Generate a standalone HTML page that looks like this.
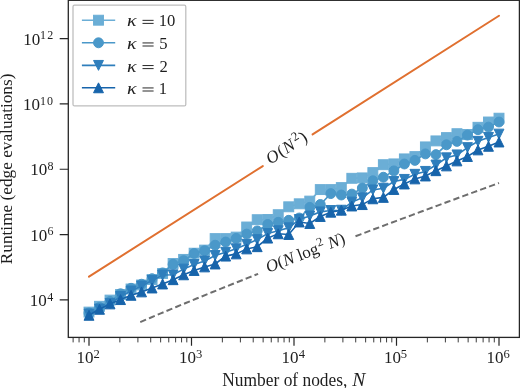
<!DOCTYPE html>
<html><head><meta charset="utf-8"><style>
html,body{margin:0;padding:0;background:#fff;width:520px;height:388px;overflow:hidden}
svg{display:block;will-change:transform}
</style></head><body>
<svg width="520" height="388" viewBox="0 0 520 388" font-family="Liberation Serif" fill="#1e1e1e">
<rect x="0" y="0" width="520" height="388" fill="#fff"/>
<defs><clipPath id="axclip"><rect x="68.3" y="0.3" width="451.09999999999997" height="337.09999999999997"/></clipPath></defs>
<g clip-path="url(#axclip)">
<path d="M89.00,276.62L262.80,166.04 M312.60,134.35L499.00,15.75" stroke="#e07030" stroke-width="2.0" stroke-linecap="round" fill="none"/>
<path d="M140.25,322.15 L145.37,319.95 L150.50,317.77 L155.62,315.59 L160.75,313.43 L165.88,311.28 L171.00,309.13 L176.12,307.00 L181.25,304.87 L186.38,302.75 L191.50,300.64 L196.62,298.54 L201.75,296.45 L206.88,294.36 L212.00,292.28 L217.12,290.21 L222.25,288.14 L227.38,286.08 L232.50,284.03 L237.63,281.98 L242.75,279.94 L247.87,277.90 L253.00,275.88 L258.12,273.85" stroke="#6e6e6e" stroke-width="2.0" stroke-dasharray="6.3,3.2" fill="none"/>
<path d="M355.50,236.26 L360.63,234.32 L365.75,232.39 L370.88,230.45 L376.00,228.52 L381.12,226.60 L386.25,224.67 L391.38,222.75 L396.50,220.83 L401.62,218.92 L406.75,217.00 L411.88,215.09 L417.00,213.19 L422.12,211.28 L427.25,209.38 L432.37,207.48 L437.50,205.58 L442.62,203.69 L447.75,201.80 L452.88,199.91 L458.00,198.02 L463.13,196.14 L468.25,194.25 L473.38,192.37 L478.50,190.49 L483.62,188.62 L488.75,186.74 L493.88,184.87 L499.00,183.00" stroke="#6e6e6e" stroke-width="2.0" stroke-dasharray="6.3,3.2" fill="none"/>
<path d="M89.00,312.10 L99.51,306.30 L110.03,300.10 L120.54,294.50 L131.05,289.00 L141.56,285.00 L152.08,279.50 L162.59,273.50 L173.10,263.50 L183.62,259.40 L194.13,253.20 L204.64,250.10 L215.15,238.60 L225.67,238.60 L236.18,237.10 L246.69,227.00 L257.21,219.70 L267.72,219.50 L278.23,214.70 L288.74,206.80 L299.26,203.80 L309.77,201.10 L320.28,189.60 L330.79,189.60 L341.31,187.60 L351.82,178.30 L362.33,177.90 L372.85,172.60 L383.36,164.70 L393.87,163.90 L404.38,158.90 L414.90,156.60 L425.41,146.90 L435.92,140.90 L446.44,137.60 L456.95,133.70 L467.46,134.50 L477.97,127.30 L488.49,122.00 L499.00,118.20" stroke="#6baed6" stroke-width="1.6" fill="none"/>
<rect x="84.05" y="307.15" width="9.9" height="9.9" fill="#6baed6" stroke="#6baed6" stroke-width="1.0"/><rect x="94.56" y="301.35" width="9.9" height="9.9" fill="#6baed6" stroke="#6baed6" stroke-width="1.0"/><rect x="105.08" y="295.15" width="9.9" height="9.9" fill="#6baed6" stroke="#6baed6" stroke-width="1.0"/><rect x="115.59" y="289.55" width="9.9" height="9.9" fill="#6baed6" stroke="#6baed6" stroke-width="1.0"/><rect x="126.10" y="284.05" width="9.9" height="9.9" fill="#6baed6" stroke="#6baed6" stroke-width="1.0"/><rect x="136.61" y="280.05" width="9.9" height="9.9" fill="#6baed6" stroke="#6baed6" stroke-width="1.0"/><rect x="147.13" y="274.55" width="9.9" height="9.9" fill="#6baed6" stroke="#6baed6" stroke-width="1.0"/><rect x="157.64" y="268.55" width="9.9" height="9.9" fill="#6baed6" stroke="#6baed6" stroke-width="1.0"/><rect x="168.15" y="258.55" width="9.9" height="9.9" fill="#6baed6" stroke="#6baed6" stroke-width="1.0"/><rect x="178.67" y="254.45" width="9.9" height="9.9" fill="#6baed6" stroke="#6baed6" stroke-width="1.0"/><rect x="189.18" y="248.25" width="9.9" height="9.9" fill="#6baed6" stroke="#6baed6" stroke-width="1.0"/><rect x="199.69" y="245.15" width="9.9" height="9.9" fill="#6baed6" stroke="#6baed6" stroke-width="1.0"/><rect x="210.20" y="233.65" width="9.9" height="9.9" fill="#6baed6" stroke="#6baed6" stroke-width="1.0"/><rect x="220.72" y="233.65" width="9.9" height="9.9" fill="#6baed6" stroke="#6baed6" stroke-width="1.0"/><rect x="231.23" y="232.15" width="9.9" height="9.9" fill="#6baed6" stroke="#6baed6" stroke-width="1.0"/><rect x="241.74" y="222.05" width="9.9" height="9.9" fill="#6baed6" stroke="#6baed6" stroke-width="1.0"/><rect x="252.26" y="214.75" width="9.9" height="9.9" fill="#6baed6" stroke="#6baed6" stroke-width="1.0"/><rect x="262.77" y="214.55" width="9.9" height="9.9" fill="#6baed6" stroke="#6baed6" stroke-width="1.0"/><rect x="273.28" y="209.75" width="9.9" height="9.9" fill="#6baed6" stroke="#6baed6" stroke-width="1.0"/><rect x="283.79" y="201.85" width="9.9" height="9.9" fill="#6baed6" stroke="#6baed6" stroke-width="1.0"/><rect x="294.31" y="198.85" width="9.9" height="9.9" fill="#6baed6" stroke="#6baed6" stroke-width="1.0"/><rect x="304.82" y="196.15" width="9.9" height="9.9" fill="#6baed6" stroke="#6baed6" stroke-width="1.0"/><rect x="315.33" y="184.65" width="9.9" height="9.9" fill="#6baed6" stroke="#6baed6" stroke-width="1.0"/><rect x="325.84" y="184.65" width="9.9" height="9.9" fill="#6baed6" stroke="#6baed6" stroke-width="1.0"/><rect x="336.36" y="182.65" width="9.9" height="9.9" fill="#6baed6" stroke="#6baed6" stroke-width="1.0"/><rect x="346.87" y="173.35" width="9.9" height="9.9" fill="#6baed6" stroke="#6baed6" stroke-width="1.0"/><rect x="357.38" y="172.95" width="9.9" height="9.9" fill="#6baed6" stroke="#6baed6" stroke-width="1.0"/><rect x="367.90" y="167.65" width="9.9" height="9.9" fill="#6baed6" stroke="#6baed6" stroke-width="1.0"/><rect x="378.41" y="159.75" width="9.9" height="9.9" fill="#6baed6" stroke="#6baed6" stroke-width="1.0"/><rect x="388.92" y="158.95" width="9.9" height="9.9" fill="#6baed6" stroke="#6baed6" stroke-width="1.0"/><rect x="399.43" y="153.95" width="9.9" height="9.9" fill="#6baed6" stroke="#6baed6" stroke-width="1.0"/><rect x="409.95" y="151.65" width="9.9" height="9.9" fill="#6baed6" stroke="#6baed6" stroke-width="1.0"/><rect x="420.46" y="141.95" width="9.9" height="9.9" fill="#6baed6" stroke="#6baed6" stroke-width="1.0"/><rect x="430.97" y="135.95" width="9.9" height="9.9" fill="#6baed6" stroke="#6baed6" stroke-width="1.0"/><rect x="441.49" y="132.65" width="9.9" height="9.9" fill="#6baed6" stroke="#6baed6" stroke-width="1.0"/><rect x="452.00" y="128.75" width="9.9" height="9.9" fill="#6baed6" stroke="#6baed6" stroke-width="1.0"/><rect x="462.51" y="129.55" width="9.9" height="9.9" fill="#6baed6" stroke="#6baed6" stroke-width="1.0"/><rect x="473.02" y="122.35" width="9.9" height="9.9" fill="#6baed6" stroke="#6baed6" stroke-width="1.0"/><rect x="483.54" y="117.05" width="9.9" height="9.9" fill="#6baed6" stroke="#6baed6" stroke-width="1.0"/><rect x="494.05" y="113.25" width="9.9" height="9.9" fill="#6baed6" stroke="#6baed6" stroke-width="1.0"/>
<path d="M89.00,313.00 L99.51,307.50 L110.03,301.50 L120.54,293.80 L131.05,288.30 L141.56,284.20 L152.08,278.70 L162.59,272.90 L173.10,264.30 L183.62,260.70 L194.13,253.50 L204.64,250.70 L215.15,245.20 L225.67,242.00 L236.18,238.40 L246.69,234.10 L257.21,230.90 L267.72,224.50 L278.23,222.30 L288.74,220.30 L299.26,218.00 L309.77,207.40 L320.28,204.50 L330.79,193.60 L341.31,195.00 L351.82,194.10 L362.33,188.00 L372.85,180.80 L383.36,177.20 L393.87,170.90 L404.38,164.00 L414.90,160.40 L425.41,153.90 L435.92,154.60 L446.44,144.80 L456.95,141.40 L467.46,135.10 L477.97,129.70 L488.49,127.10 L499.00,122.00" stroke="#4a98c9" stroke-width="1.6" fill="none"/>
<circle cx="89.00" cy="313.00" r="4.95" fill="#4a98c9" stroke="#4a98c9" stroke-width="1.0"/><circle cx="99.51" cy="307.50" r="4.95" fill="#4a98c9" stroke="#4a98c9" stroke-width="1.0"/><circle cx="110.03" cy="301.50" r="4.95" fill="#4a98c9" stroke="#4a98c9" stroke-width="1.0"/><circle cx="120.54" cy="293.80" r="4.95" fill="#4a98c9" stroke="#4a98c9" stroke-width="1.0"/><circle cx="131.05" cy="288.30" r="4.95" fill="#4a98c9" stroke="#4a98c9" stroke-width="1.0"/><circle cx="141.56" cy="284.20" r="4.95" fill="#4a98c9" stroke="#4a98c9" stroke-width="1.0"/><circle cx="152.08" cy="278.70" r="4.95" fill="#4a98c9" stroke="#4a98c9" stroke-width="1.0"/><circle cx="162.59" cy="272.90" r="4.95" fill="#4a98c9" stroke="#4a98c9" stroke-width="1.0"/><circle cx="173.10" cy="264.30" r="4.95" fill="#4a98c9" stroke="#4a98c9" stroke-width="1.0"/><circle cx="183.62" cy="260.70" r="4.95" fill="#4a98c9" stroke="#4a98c9" stroke-width="1.0"/><circle cx="194.13" cy="253.50" r="4.95" fill="#4a98c9" stroke="#4a98c9" stroke-width="1.0"/><circle cx="204.64" cy="250.70" r="4.95" fill="#4a98c9" stroke="#4a98c9" stroke-width="1.0"/><circle cx="215.15" cy="245.20" r="4.95" fill="#4a98c9" stroke="#4a98c9" stroke-width="1.0"/><circle cx="225.67" cy="242.00" r="4.95" fill="#4a98c9" stroke="#4a98c9" stroke-width="1.0"/><circle cx="236.18" cy="238.40" r="4.95" fill="#4a98c9" stroke="#4a98c9" stroke-width="1.0"/><circle cx="246.69" cy="234.10" r="4.95" fill="#4a98c9" stroke="#4a98c9" stroke-width="1.0"/><circle cx="257.21" cy="230.90" r="4.95" fill="#4a98c9" stroke="#4a98c9" stroke-width="1.0"/><circle cx="267.72" cy="224.50" r="4.95" fill="#4a98c9" stroke="#4a98c9" stroke-width="1.0"/><circle cx="278.23" cy="222.30" r="4.95" fill="#4a98c9" stroke="#4a98c9" stroke-width="1.0"/><circle cx="288.74" cy="220.30" r="4.95" fill="#4a98c9" stroke="#4a98c9" stroke-width="1.0"/><circle cx="299.26" cy="218.00" r="4.95" fill="#4a98c9" stroke="#4a98c9" stroke-width="1.0"/><circle cx="309.77" cy="207.40" r="4.95" fill="#4a98c9" stroke="#4a98c9" stroke-width="1.0"/><circle cx="320.28" cy="204.50" r="4.95" fill="#4a98c9" stroke="#4a98c9" stroke-width="1.0"/><circle cx="330.79" cy="193.60" r="4.95" fill="#4a98c9" stroke="#4a98c9" stroke-width="1.0"/><circle cx="341.31" cy="195.00" r="4.95" fill="#4a98c9" stroke="#4a98c9" stroke-width="1.0"/><circle cx="351.82" cy="194.10" r="4.95" fill="#4a98c9" stroke="#4a98c9" stroke-width="1.0"/><circle cx="362.33" cy="188.00" r="4.95" fill="#4a98c9" stroke="#4a98c9" stroke-width="1.0"/><circle cx="372.85" cy="180.80" r="4.95" fill="#4a98c9" stroke="#4a98c9" stroke-width="1.0"/><circle cx="383.36" cy="177.20" r="4.95" fill="#4a98c9" stroke="#4a98c9" stroke-width="1.0"/><circle cx="393.87" cy="170.90" r="4.95" fill="#4a98c9" stroke="#4a98c9" stroke-width="1.0"/><circle cx="404.38" cy="164.00" r="4.95" fill="#4a98c9" stroke="#4a98c9" stroke-width="1.0"/><circle cx="414.90" cy="160.40" r="4.95" fill="#4a98c9" stroke="#4a98c9" stroke-width="1.0"/><circle cx="425.41" cy="153.90" r="4.95" fill="#4a98c9" stroke="#4a98c9" stroke-width="1.0"/><circle cx="435.92" cy="154.60" r="4.95" fill="#4a98c9" stroke="#4a98c9" stroke-width="1.0"/><circle cx="446.44" cy="144.80" r="4.95" fill="#4a98c9" stroke="#4a98c9" stroke-width="1.0"/><circle cx="456.95" cy="141.40" r="4.95" fill="#4a98c9" stroke="#4a98c9" stroke-width="1.0"/><circle cx="467.46" cy="135.10" r="4.95" fill="#4a98c9" stroke="#4a98c9" stroke-width="1.0"/><circle cx="477.97" cy="129.70" r="4.95" fill="#4a98c9" stroke="#4a98c9" stroke-width="1.0"/><circle cx="488.49" cy="127.10" r="4.95" fill="#4a98c9" stroke="#4a98c9" stroke-width="1.0"/><circle cx="499.00" cy="122.00" r="4.95" fill="#4a98c9" stroke="#4a98c9" stroke-width="1.0"/>
<path d="M89.00,314.00 L99.51,309.00 L110.03,303.50 L120.54,296.50 L131.05,291.00 L141.56,286.00 L152.08,280.50 L162.59,275.00 L173.10,274.80 L183.62,269.10 L194.13,264.50 L204.64,260.90 L215.15,255.50 L225.67,252.30 L236.18,248.70 L246.69,244.30 L257.21,239.60 L267.72,233.50 L278.23,230.70 L288.74,227.80 L299.26,219.50 L309.77,216.00 L320.28,211.90 L330.79,210.50 L341.31,210.20 L351.82,202.10 L362.33,197.80 L372.85,189.90 L383.36,188.20 L393.87,181.50 L404.38,179.40 L414.90,174.30 L425.41,171.40 L435.92,165.00 L446.44,157.80 L456.95,154.90 L467.46,147.60 L477.97,141.30 L488.49,137.40 L499.00,134.10" stroke="#2e7ebc" stroke-width="1.6" fill="none"/>
<path d="M84.05,309.05L93.95,309.05L89.00,318.95Z" fill="#2e7ebc" stroke="#2e7ebc" stroke-width="1.0"/><path d="M94.56,304.05L104.46,304.05L99.51,313.95Z" fill="#2e7ebc" stroke="#2e7ebc" stroke-width="1.0"/><path d="M105.08,298.55L114.98,298.55L110.03,308.45Z" fill="#2e7ebc" stroke="#2e7ebc" stroke-width="1.0"/><path d="M115.59,291.55L125.49,291.55L120.54,301.45Z" fill="#2e7ebc" stroke="#2e7ebc" stroke-width="1.0"/><path d="M126.10,286.05L136.00,286.05L131.05,295.95Z" fill="#2e7ebc" stroke="#2e7ebc" stroke-width="1.0"/><path d="M136.61,281.05L146.51,281.05L141.56,290.95Z" fill="#2e7ebc" stroke="#2e7ebc" stroke-width="1.0"/><path d="M147.13,275.55L157.03,275.55L152.08,285.45Z" fill="#2e7ebc" stroke="#2e7ebc" stroke-width="1.0"/><path d="M157.64,270.05L167.54,270.05L162.59,279.95Z" fill="#2e7ebc" stroke="#2e7ebc" stroke-width="1.0"/><path d="M168.15,269.85L178.05,269.85L173.10,279.75Z" fill="#2e7ebc" stroke="#2e7ebc" stroke-width="1.0"/><path d="M178.67,264.15L188.57,264.15L183.62,274.05Z" fill="#2e7ebc" stroke="#2e7ebc" stroke-width="1.0"/><path d="M189.18,259.55L199.08,259.55L194.13,269.45Z" fill="#2e7ebc" stroke="#2e7ebc" stroke-width="1.0"/><path d="M199.69,255.95L209.59,255.95L204.64,265.85Z" fill="#2e7ebc" stroke="#2e7ebc" stroke-width="1.0"/><path d="M210.20,250.55L220.10,250.55L215.15,260.45Z" fill="#2e7ebc" stroke="#2e7ebc" stroke-width="1.0"/><path d="M220.72,247.35L230.62,247.35L225.67,257.25Z" fill="#2e7ebc" stroke="#2e7ebc" stroke-width="1.0"/><path d="M231.23,243.75L241.13,243.75L236.18,253.65Z" fill="#2e7ebc" stroke="#2e7ebc" stroke-width="1.0"/><path d="M241.74,239.35L251.64,239.35L246.69,249.25Z" fill="#2e7ebc" stroke="#2e7ebc" stroke-width="1.0"/><path d="M252.26,234.65L262.16,234.65L257.21,244.55Z" fill="#2e7ebc" stroke="#2e7ebc" stroke-width="1.0"/><path d="M262.77,228.55L272.67,228.55L267.72,238.45Z" fill="#2e7ebc" stroke="#2e7ebc" stroke-width="1.0"/><path d="M273.28,225.75L283.18,225.75L278.23,235.65Z" fill="#2e7ebc" stroke="#2e7ebc" stroke-width="1.0"/><path d="M283.79,222.85L293.69,222.85L288.74,232.75Z" fill="#2e7ebc" stroke="#2e7ebc" stroke-width="1.0"/><path d="M294.31,214.55L304.21,214.55L299.26,224.45Z" fill="#2e7ebc" stroke="#2e7ebc" stroke-width="1.0"/><path d="M304.82,211.05L314.72,211.05L309.77,220.95Z" fill="#2e7ebc" stroke="#2e7ebc" stroke-width="1.0"/><path d="M315.33,206.95L325.23,206.95L320.28,216.85Z" fill="#2e7ebc" stroke="#2e7ebc" stroke-width="1.0"/><path d="M325.84,205.55L335.74,205.55L330.79,215.45Z" fill="#2e7ebc" stroke="#2e7ebc" stroke-width="1.0"/><path d="M336.36,205.25L346.26,205.25L341.31,215.15Z" fill="#2e7ebc" stroke="#2e7ebc" stroke-width="1.0"/><path d="M346.87,197.15L356.77,197.15L351.82,207.05Z" fill="#2e7ebc" stroke="#2e7ebc" stroke-width="1.0"/><path d="M357.38,192.85L367.28,192.85L362.33,202.75Z" fill="#2e7ebc" stroke="#2e7ebc" stroke-width="1.0"/><path d="M367.90,184.95L377.80,184.95L372.85,194.85Z" fill="#2e7ebc" stroke="#2e7ebc" stroke-width="1.0"/><path d="M378.41,183.25L388.31,183.25L383.36,193.15Z" fill="#2e7ebc" stroke="#2e7ebc" stroke-width="1.0"/><path d="M388.92,176.55L398.82,176.55L393.87,186.45Z" fill="#2e7ebc" stroke="#2e7ebc" stroke-width="1.0"/><path d="M399.43,174.45L409.33,174.45L404.38,184.35Z" fill="#2e7ebc" stroke="#2e7ebc" stroke-width="1.0"/><path d="M409.95,169.35L419.85,169.35L414.90,179.25Z" fill="#2e7ebc" stroke="#2e7ebc" stroke-width="1.0"/><path d="M420.46,166.45L430.36,166.45L425.41,176.35Z" fill="#2e7ebc" stroke="#2e7ebc" stroke-width="1.0"/><path d="M430.97,160.05L440.87,160.05L435.92,169.95Z" fill="#2e7ebc" stroke="#2e7ebc" stroke-width="1.0"/><path d="M441.49,152.85L451.39,152.85L446.44,162.75Z" fill="#2e7ebc" stroke="#2e7ebc" stroke-width="1.0"/><path d="M452.00,149.95L461.90,149.95L456.95,159.85Z" fill="#2e7ebc" stroke="#2e7ebc" stroke-width="1.0"/><path d="M462.51,142.65L472.41,142.65L467.46,152.55Z" fill="#2e7ebc" stroke="#2e7ebc" stroke-width="1.0"/><path d="M473.02,136.35L482.92,136.35L477.97,146.25Z" fill="#2e7ebc" stroke="#2e7ebc" stroke-width="1.0"/><path d="M483.54,132.45L493.44,132.45L488.49,142.35Z" fill="#2e7ebc" stroke="#2e7ebc" stroke-width="1.0"/><path d="M494.05,129.15L503.95,129.15L499.00,139.05Z" fill="#2e7ebc" stroke="#2e7ebc" stroke-width="1.0"/>
<path d="M89.00,315.30 L99.51,309.30 L110.03,303.90 L120.54,299.60 L131.05,295.30 L141.56,291.90 L152.08,288.00 L162.59,284.00 L173.10,279.70 L183.62,274.80 L194.13,270.50 L204.64,266.90 L215.15,264.00 L225.67,256.10 L236.18,253.90 L246.69,248.90 L257.21,246.70 L267.72,238.10 L278.23,233.80 L288.74,234.50 L299.26,222.00 L309.77,223.50 L320.28,216.50 L330.79,212.20 L341.31,210.20 L351.82,206.00 L362.33,204.60 L372.85,198.80 L383.36,197.40 L393.87,189.50 L404.38,184.00 L414.90,178.90 L425.41,176.00 L435.92,170.70 L446.44,165.90 L456.95,160.90 L467.46,156.50 L477.97,149.90 L488.49,146.30 L499.00,142.00" stroke="#1764ab" stroke-width="1.6" fill="none"/>
<path d="M84.05,320.25L93.95,320.25L89.00,310.35Z" fill="#1764ab" stroke="#1764ab" stroke-width="1.0"/><path d="M94.56,314.25L104.46,314.25L99.51,304.35Z" fill="#1764ab" stroke="#1764ab" stroke-width="1.0"/><path d="M105.08,308.85L114.98,308.85L110.03,298.95Z" fill="#1764ab" stroke="#1764ab" stroke-width="1.0"/><path d="M115.59,304.55L125.49,304.55L120.54,294.65Z" fill="#1764ab" stroke="#1764ab" stroke-width="1.0"/><path d="M126.10,300.25L136.00,300.25L131.05,290.35Z" fill="#1764ab" stroke="#1764ab" stroke-width="1.0"/><path d="M136.61,296.85L146.51,296.85L141.56,286.95Z" fill="#1764ab" stroke="#1764ab" stroke-width="1.0"/><path d="M147.13,292.95L157.03,292.95L152.08,283.05Z" fill="#1764ab" stroke="#1764ab" stroke-width="1.0"/><path d="M157.64,288.95L167.54,288.95L162.59,279.05Z" fill="#1764ab" stroke="#1764ab" stroke-width="1.0"/><path d="M168.15,284.65L178.05,284.65L173.10,274.75Z" fill="#1764ab" stroke="#1764ab" stroke-width="1.0"/><path d="M178.67,279.75L188.57,279.75L183.62,269.85Z" fill="#1764ab" stroke="#1764ab" stroke-width="1.0"/><path d="M189.18,275.45L199.08,275.45L194.13,265.55Z" fill="#1764ab" stroke="#1764ab" stroke-width="1.0"/><path d="M199.69,271.85L209.59,271.85L204.64,261.95Z" fill="#1764ab" stroke="#1764ab" stroke-width="1.0"/><path d="M210.20,268.95L220.10,268.95L215.15,259.05Z" fill="#1764ab" stroke="#1764ab" stroke-width="1.0"/><path d="M220.72,261.05L230.62,261.05L225.67,251.15Z" fill="#1764ab" stroke="#1764ab" stroke-width="1.0"/><path d="M231.23,258.85L241.13,258.85L236.18,248.95Z" fill="#1764ab" stroke="#1764ab" stroke-width="1.0"/><path d="M241.74,253.85L251.64,253.85L246.69,243.95Z" fill="#1764ab" stroke="#1764ab" stroke-width="1.0"/><path d="M252.26,251.65L262.16,251.65L257.21,241.75Z" fill="#1764ab" stroke="#1764ab" stroke-width="1.0"/><path d="M262.77,243.05L272.67,243.05L267.72,233.15Z" fill="#1764ab" stroke="#1764ab" stroke-width="1.0"/><path d="M273.28,238.75L283.18,238.75L278.23,228.85Z" fill="#1764ab" stroke="#1764ab" stroke-width="1.0"/><path d="M283.79,239.45L293.69,239.45L288.74,229.55Z" fill="#1764ab" stroke="#1764ab" stroke-width="1.0"/><path d="M294.31,226.95L304.21,226.95L299.26,217.05Z" fill="#1764ab" stroke="#1764ab" stroke-width="1.0"/><path d="M304.82,228.45L314.72,228.45L309.77,218.55Z" fill="#1764ab" stroke="#1764ab" stroke-width="1.0"/><path d="M315.33,221.45L325.23,221.45L320.28,211.55Z" fill="#1764ab" stroke="#1764ab" stroke-width="1.0"/><path d="M325.84,217.15L335.74,217.15L330.79,207.25Z" fill="#1764ab" stroke="#1764ab" stroke-width="1.0"/><path d="M336.36,215.15L346.26,215.15L341.31,205.25Z" fill="#1764ab" stroke="#1764ab" stroke-width="1.0"/><path d="M346.87,210.95L356.77,210.95L351.82,201.05Z" fill="#1764ab" stroke="#1764ab" stroke-width="1.0"/><path d="M357.38,209.55L367.28,209.55L362.33,199.65Z" fill="#1764ab" stroke="#1764ab" stroke-width="1.0"/><path d="M367.90,203.75L377.80,203.75L372.85,193.85Z" fill="#1764ab" stroke="#1764ab" stroke-width="1.0"/><path d="M378.41,202.35L388.31,202.35L383.36,192.45Z" fill="#1764ab" stroke="#1764ab" stroke-width="1.0"/><path d="M388.92,194.45L398.82,194.45L393.87,184.55Z" fill="#1764ab" stroke="#1764ab" stroke-width="1.0"/><path d="M399.43,188.95L409.33,188.95L404.38,179.05Z" fill="#1764ab" stroke="#1764ab" stroke-width="1.0"/><path d="M409.95,183.85L419.85,183.85L414.90,173.95Z" fill="#1764ab" stroke="#1764ab" stroke-width="1.0"/><path d="M420.46,180.95L430.36,180.95L425.41,171.05Z" fill="#1764ab" stroke="#1764ab" stroke-width="1.0"/><path d="M430.97,175.65L440.87,175.65L435.92,165.75Z" fill="#1764ab" stroke="#1764ab" stroke-width="1.0"/><path d="M441.49,170.85L451.39,170.85L446.44,160.95Z" fill="#1764ab" stroke="#1764ab" stroke-width="1.0"/><path d="M452.00,165.85L461.90,165.85L456.95,155.95Z" fill="#1764ab" stroke="#1764ab" stroke-width="1.0"/><path d="M462.51,161.45L472.41,161.45L467.46,151.55Z" fill="#1764ab" stroke="#1764ab" stroke-width="1.0"/><path d="M473.02,154.85L482.92,154.85L477.97,144.95Z" fill="#1764ab" stroke="#1764ab" stroke-width="1.0"/><path d="M483.54,151.25L493.44,151.25L488.49,141.35Z" fill="#1764ab" stroke="#1764ab" stroke-width="1.0"/><path d="M494.05,146.95L503.95,146.95L499.00,137.05Z" fill="#1764ab" stroke="#1764ab" stroke-width="1.0"/>
</g>
<g transform="translate(286.4,147.8) rotate(-32.47)"><text x="0" y="5.5" font-size="17.2" text-anchor="middle"><tspan font-style="italic">O</tspan><tspan dx="0.9">(</tspan><tspan dx="0.7" font-style="italic">N</tspan><tspan font-size="12.6" dy="-6.4" dx="1.7">2</tspan><tspan dy="6.4" dx="0.5">)</tspan></text></g>
<g transform="translate(305.3,252.6) rotate(-21.00)"><text x="0" y="5.5" font-size="17" text-anchor="middle"><tspan font-style="italic">O</tspan>(<tspan font-style="italic">N</tspan> log<tspan font-size="12.4" dy="-6.4" dx="0.6">2</tspan><tspan dy="6.4"> </tspan><tspan font-style="italic">N</tspan>)</text></g>
<rect x="68.3" y="0.3" width="451.09999999999997" height="337.09999999999997" fill="none" stroke="#262626" stroke-width="1.3"/>
<path d="M89.00,337.40V345.70 M191.50,337.40V345.70 M294.00,337.40V345.70 M396.50,337.40V345.70 M499.00,337.40V345.70 M68.30,299.90H59.70 M68.30,234.58H59.70 M68.30,169.26H59.70 M68.30,103.94H59.70 M68.30,38.62H59.70" stroke="#262626" stroke-width="1.2" fill="none"/>
<path d="M73.12,337.40V342.40 M79.07,337.40V342.40 M84.31,337.40V342.40 M119.86,337.40V342.40 M137.90,337.40V342.40 M150.71,337.40V342.40 M160.64,337.40V342.40 M168.76,337.40V342.40 M175.62,337.40V342.40 M181.57,337.40V342.40 M186.81,337.40V342.40 M222.36,337.40V342.40 M240.40,337.40V342.40 M253.21,337.40V342.40 M263.14,337.40V342.40 M271.26,337.40V342.40 M278.12,337.40V342.40 M284.07,337.40V342.40 M289.31,337.40V342.40 M324.86,337.40V342.40 M342.90,337.40V342.40 M355.71,337.40V342.40 M365.64,337.40V342.40 M373.76,337.40V342.40 M380.62,337.40V342.40 M386.57,337.40V342.40 M391.81,337.40V342.40 M427.36,337.40V342.40 M445.40,337.40V342.40 M458.21,337.40V342.40 M468.14,337.40V342.40 M476.26,337.40V342.40 M483.12,337.40V342.40 M489.07,337.40V342.40 M494.31,337.40V342.40" stroke="#262626" stroke-width="0.9" fill="none"/>
<text x="76.60" y="363.10" font-size="17">10</text><text x="93.50" y="357.90" font-size="12.6">2</text><text x="179.10" y="363.10" font-size="17">10</text><text x="195.88" y="357.90" font-size="12.6">3</text><text x="281.60" y="363.10" font-size="17">10</text><text x="298.75" y="357.90" font-size="12.6">4</text><text x="384.10" y="363.10" font-size="17">10</text><text x="400.75" y="357.90" font-size="12.6">5</text><text x="486.60" y="363.10" font-size="17">10</text><text x="503.50" y="357.90" font-size="12.6">6</text><text x="47.22" y="300.50" font-size="12">4</text><text x="29.69" y="305.90" font-size="17">10</text><text x="47.48" y="235.18" font-size="12">6</text><text x="30.20" y="240.58" font-size="17">10</text><text x="47.60" y="169.86" font-size="12">8</text><text x="30.32" y="175.26" font-size="17">10</text><text x="39.90" y="104.54" font-size="12" letter-spacing="1.2">10</text><text x="23.12" y="109.94" font-size="17">10</text><text x="40.02" y="39.22" font-size="12" letter-spacing="1.2">12</text><text x="23.24" y="44.62" font-size="17">10</text>
<text transform="translate(222.30,385.6) scale(1,1.05)" font-size="17.4">Number of nodes,</text>
<text transform="translate(352.3,385.6) scale(1.12,1.05)" font-size="17.5" font-style="italic">N</text>
<text transform="translate(12.4,263.7) rotate(-90)" x="-0.5" y="0" font-size="17.25">Runtime (edge evaluations)</text>
<rect x="73" y="5.2" width="112.8" height="100.7" rx="1.5" fill="#fff" fill-opacity="0.8" stroke="#bdbdbd" stroke-width="1.25"/>
<path d="M81.9,20.2H115.2" stroke="#6baed6" stroke-width="1.6"/>
<rect x="93.55" y="15.25" width="9.9" height="9.9" fill="#6baed6" stroke="#6baed6" stroke-width="1.0"/>
<text transform="translate(126.96,26.30) scale(1.2,1.04)" font-size="16.6" font-style="italic">κ</text>
<path d="M142.5,20.35H153.6M142.5,23.40H153.6" stroke="#1e1e1e" stroke-width="0.95"/>
<text x="158.70" y="26.30" font-size="16.6">10</text>
<path d="M81.9,42.8H115.2" stroke="#4a98c9" stroke-width="1.6"/>
<circle cx="98.50" cy="42.80" r="4.95" fill="#4a98c9" stroke="#4a98c9" stroke-width="1.0"/>
<text transform="translate(126.96,48.90) scale(1.2,1.04)" font-size="16.6" font-style="italic">κ</text>
<path d="M142.5,42.95H153.6M142.5,46.00H153.6" stroke="#1e1e1e" stroke-width="0.95"/>
<text x="159.20" y="48.90" font-size="16.6">5</text>
<path d="M81.9,65.4H115.2" stroke="#2e7ebc" stroke-width="1.6"/>
<path d="M93.55,60.45L103.45,60.45L98.50,70.35Z" fill="#2e7ebc" stroke="#2e7ebc" stroke-width="1.0"/>
<text transform="translate(126.96,71.50) scale(1.2,1.04)" font-size="16.6" font-style="italic">κ</text>
<path d="M142.5,65.55H153.6M142.5,68.60H153.6" stroke="#1e1e1e" stroke-width="0.95"/>
<text x="159.45" y="71.50" font-size="16.6">2</text>
<path d="M81.9,87.8H115.2" stroke="#1764ab" stroke-width="1.6"/>
<path d="M93.55,92.75L103.45,92.75L98.50,82.85Z" fill="#1764ab" stroke="#1764ab" stroke-width="1.0"/>
<text transform="translate(126.96,93.90) scale(1.2,1.04)" font-size="16.6" font-style="italic">κ</text>
<path d="M142.5,87.95H153.6M142.5,91.00H153.6" stroke="#1e1e1e" stroke-width="0.95"/>
<text x="158.70" y="93.90" font-size="16.6">1</text>
</svg>
</body></html>
